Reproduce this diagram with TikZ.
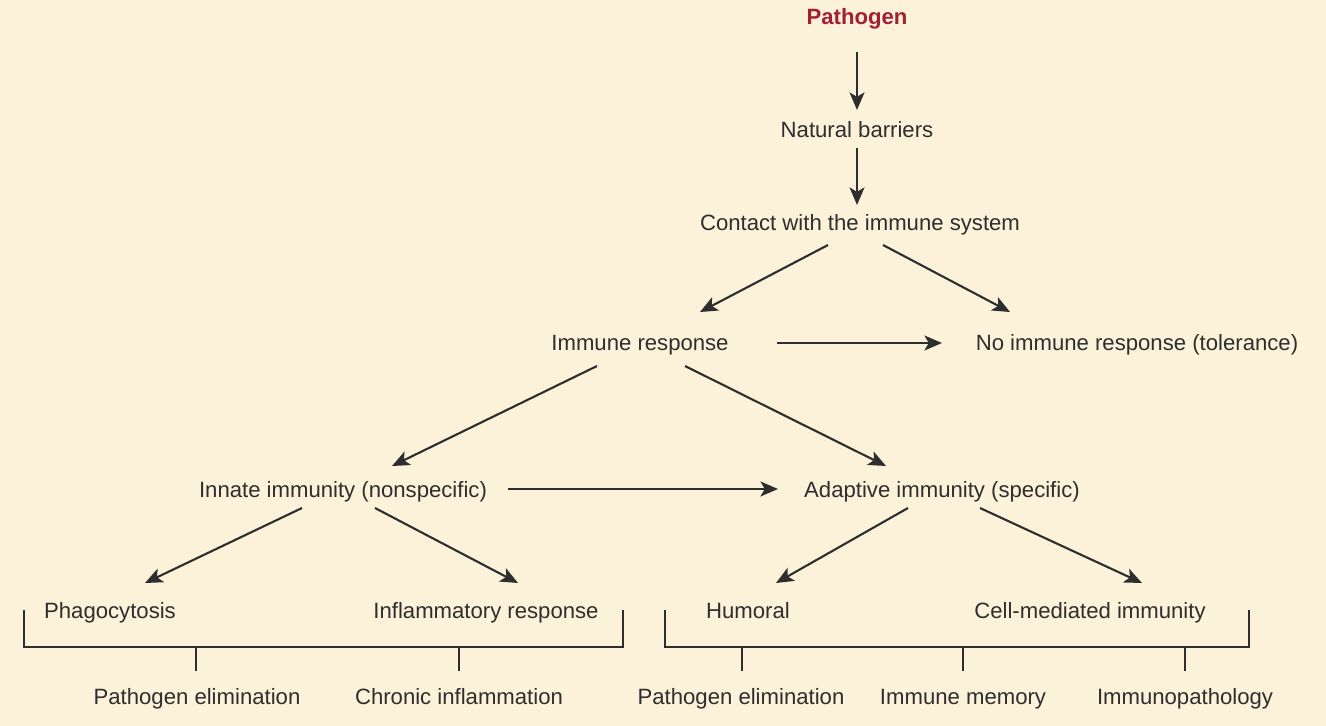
\documentclass[tikz,border=0pt]{standalone}
\usepackage{fontspec}
\setmainfont{Liberation Sans}
\usetikzlibrary{arrows.meta,calc}
\definecolor{paper}{HTML}{FCF1D9}
\definecolor{ink}{HTML}{2E2E2E}
\definecolor{germ}{HTML}{A31F34}

\begin{document}
\begin{tikzpicture}
  [x=0.02cm,y=-0.02cm,
   every node/.style={inner sep=0pt,text height=9.1pt,text depth=0pt,text=ink,font=\fontsize{12.6}{15}\selectfont},
   arr/.style={-{Stealth[length=10pt,width=8.5pt,inset=2.5pt]},line width=1.2pt,draw=ink},
   brace/.style={line width=1.2pt,draw=ink}]
  \fill [paper] (0,0) rectangle (1326,726);

  \node [text=germ,font=\fontsize{12.6}{15}\selectfont\bfseries] (patho) at (857,17) {Pathogen};
  \node (barr) at (857,130) {Natural barriers};
  \node (contact) at (860,223) {Contact with the immune system};
  \node (resp) at (640,343) {Immune response};
  \node (toler) at (1137,343) {No immune response (tolerance)};
  \node (innate) at (343,490) {Innate immunity (nonspecific)};
  \node (adapt) at (942,490) {Adaptive immunity (specific)};
  \node (phago) at (110,611) {Phagocytosis};
  \node (inflam) at (486,611) {Inflammatory response};
  \node (humor) at (748,611) {Humoral};
  \node (cell) at (1090,611) {Cell-mediated immunity};
  \node (elimA) at (197,697) {Pathogen elimination};
  \node (chron) at (459,697) {Chronic inflammation};
  \node (elimB) at (741,697) {Pathogen elimination};
  \node (memory) at (963,697) {Immune memory};
  \node (patho2) at (1185,697) {Immunopathology};

  \draw [arr] ($(patho)+(0,35)$) -- ($(barr)+(0,-20)$);
  \draw [arr] ($(barr)+(0,18)$) -- ($(contact)+(-3,-18)$);
  \draw [arr] ($(contact)+(-32,22)$) -- ($(resp)+(60,-31)$);
  \draw [arr] ($(contact)+(23,22)$) -- ($(toler)+(-127,-31)$);
  \draw [arr] ($(resp)+(137,0)$) -- ($(toler)+(-195,0)$);
  \draw [arr] ($(resp)+(-43,23)$) -- ($(innate)+(49,-24)$);
  \draw [arr] ($(resp)+(45,23)$) -- ($(adapt)+(-56,-24)$);
  \draw [arr] ($(innate)+(165,-1)$) -- ($(adapt)+(-164,-1)$);
  \draw [arr] ($(innate)+(-41,18)$) -- ($(phago)+(35,-28)$);
  \draw [arr] ($(innate)+(32,18)$) -- ($(inflam)+(32,-28)$);
  \draw [arr] ($(adapt)+(-34,18)$) -- ($(humor)+(28,-28)$);
  \draw [arr] ($(adapt)+(38,18)$) -- ($(cell)+(52,-28)$);

  % brackets
  \draw [brace] (24,610) -- (24,647) -- (623,647) -- (623,610);
  \draw [brace] (665,610) -- (665,647) -- (1249,647) -- (1249,610);
  \foreach \x in {196,459,742,963,1185}
    \draw [brace] (\x,647) -- (\x,671);

\end{tikzpicture}
\end{document}
